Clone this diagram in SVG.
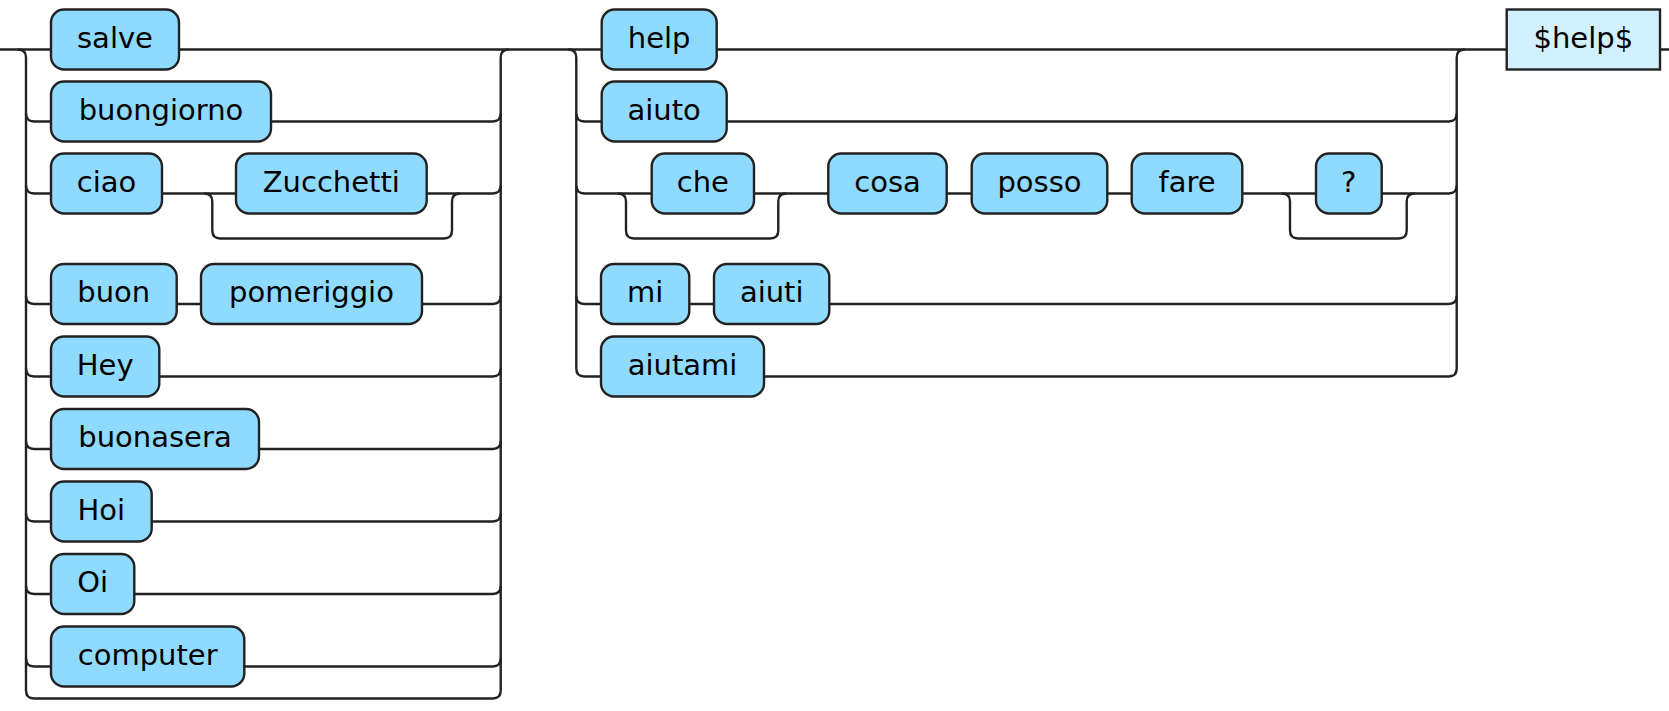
<svg xmlns="http://www.w3.org/2000/svg" width="1669" height="711" viewBox="0 0 1669 711">
<style>
.t{fill:#8FDBFF;stroke:#222;stroke-width:2.4}
.n{fill:#D2F0FF;stroke:#222;stroke-width:2.4}
.l{fill:none;stroke:#222;stroke-width:2.4}
text{font-family:"DejaVu Sans","Liberation Sans",sans-serif;font-size:29px;fill:#000;text-anchor:middle}
</style>
<rect width="1669" height="711" fill="#fff"/>
<g id="connectors" class="l">
<path d="M0 49.5H51M179 49.5H601.7M716.7 49.5H1506.7M1660 49.5H1669"/>
<path d="M18 49.5Q26 49.5 26 57.5V690.5Q26 698.5 34 698.5H492.7Q500.7 698.5 500.7 690.5V57.5Q500.7 49.5 508.7 49.5"/>
<path d="M26 113.5Q26 121.5 34 121.5H51M271 121.5H492.7Q500.7 121.5 500.7 113.5"/>
<path d="M26 185.5Q26 193.5 34 193.5H51M162 193.5H236M426.7 193.5H492.7Q500.7 193.5 500.7 185.5"/>
<path d="M204.3 193.5Q212.3 193.5 212.3 201.5V230.5Q212.3 238.5 220.3 238.5H444Q452 238.5 452 230.5V201.5Q452 193.5 460 193.5"/>
<path d="M26 296Q26 304 34 304H51M176.7 304H201M422 304H492.7Q500.7 304 500.7 296"/>
<path d="M26 368.5Q26 376.5 34 376.5H51M159.3 376.5H492.7Q500.7 376.5 500.7 368.5"/>
<path d="M26 441Q26 449 34 449H51M259 449H492.7Q500.7 449 500.7 441"/>
<path d="M26 513.5Q26 521.5 34 521.5H51M151.7 521.5H492.7Q500.7 521.5 500.7 513.5"/>
<path d="M26 586Q26 594 34 594H51M134.3 594H492.7Q500.7 594 500.7 586"/>
<path d="M26 658.5Q26 666.5 34 666.5H51M244.3 666.5H492.7Q500.7 666.5 500.7 658.5"/>
<path d="M568.3 49.5Q576.3 49.5 576.3 57.5V368.5Q576.3 376.5 584.3 376.5H601"/>
<path d="M764 376.5H1448.7Q1456.7 376.5 1456.7 368.5V57.5Q1456.7 49.5 1464.7 49.5"/>
<path d="M576.3 113.5Q576.3 121.5 584.3 121.5H601.7M726.7 121.5H1448.7Q1456.7 121.5 1456.7 113.5"/>
<path d="M576.3 185.5Q576.3 193.5 584.3 193.5H651.7M754 193.5H828.3M946.7 193.5H971.7M1107.3 193.5H1131.7M1242.3 193.5H1316M1381.7 193.5H1448.7Q1456.7 193.5 1456.7 185.5"/>
<path d="M618 193.5Q626 193.5 626 201.5V230.5Q626 238.5 634 238.5H770.3Q778.3 238.5 778.3 230.5V201.5Q778.3 193.5 786.3 193.5"/>
<path d="M1282 193.5Q1290 193.5 1290 201.5V230.5Q1290 238.5 1298 238.5H1398.7Q1406.7 238.5 1406.7 230.5V201.5Q1406.7 193.5 1414.7 193.5"/>
<path d="M576.3 296Q576.3 304 584.3 304H601M689.3 304H714M829.3 304H1448.7Q1456.7 304 1456.7 296"/>
</g>
<g id="salve"><rect class="t" x="51" y="9.5" width="128" height="60" rx="13"/><text x="115" y="47.5">salve</text></g>
<g id="buongiorno"><rect class="t" x="51" y="81.5" width="220" height="60" rx="13"/><text x="161" y="119.5">buongiorno</text></g>
<g id="ciao"><rect class="t" x="51" y="153.5" width="111" height="60" rx="13"/><text x="106.5" y="191.5">ciao</text></g>
<g id="Zucchetti"><rect class="t" x="236" y="153.5" width="190.7" height="60" rx="13"/><text x="331.3" y="191.5">Zucchetti</text></g>
<g id="buon"><rect class="t" x="51" y="264" width="125.7" height="60" rx="13"/><text x="113.8" y="302">buon</text></g>
<g id="pomeriggio"><rect class="t" x="201" y="264" width="221" height="60" rx="13"/><text x="311.5" y="302">pomeriggio</text></g>
<g id="Hey"><rect class="t" x="51" y="336.5" width="108.3" height="60" rx="13"/><text x="105.2" y="374.5">Hey</text></g>
<g id="buonasera"><rect class="t" x="51" y="409" width="208" height="60" rx="13"/><text x="155" y="447">buonasera</text></g>
<g id="Hoi"><rect class="t" x="51" y="481.5" width="100.7" height="60" rx="13"/><text x="101.3" y="519.5">Hoi</text></g>
<g id="Oi"><rect class="t" x="51" y="554" width="83.3" height="60" rx="13"/><text x="92.7" y="592">Oi</text></g>
<g id="computer"><rect class="t" x="51" y="626.5" width="193.3" height="60" rx="13"/><text x="147.7" y="664.5">computer</text></g>
<g id="help"><rect class="t" x="601.7" y="9.5" width="115" height="60" rx="13"/><text x="659.2" y="47.5">help</text></g>
<g id="aiuto"><rect class="t" x="601.7" y="81.5" width="125" height="60" rx="13"/><text x="664.2" y="119.5">aiuto</text></g>
<g id="che"><rect class="t" x="651.7" y="153.5" width="102.3" height="60" rx="13"/><text x="702.8" y="191.5">che</text></g>
<g id="cosa"><rect class="t" x="828.3" y="153.5" width="118.4" height="60" rx="13"/><text x="887.5" y="191.5">cosa</text></g>
<g id="posso"><rect class="t" x="971.7" y="153.5" width="135.6" height="60" rx="13"/><text x="1039.5" y="191.5">posso</text></g>
<g id="fare"><rect class="t" x="1131.7" y="153.5" width="110.6" height="60" rx="13"/><text x="1187" y="191.5">fare</text></g>
<g id="question"><rect class="t" x="1316" y="153.5" width="65.7" height="60" rx="13"/><text x="1348.8" y="191.5">?</text></g>
<g id="mi"><rect class="t" x="601" y="264" width="88.3" height="60" rx="13"/><text x="645.2" y="302">mi</text></g>
<g id="aiuti"><rect class="t" x="714" y="264" width="115.3" height="60" rx="13"/><text x="771.7" y="302">aiuti</text></g>
<g id="aiutami"><rect class="t" x="601" y="336.5" width="163" height="60" rx="13"/><text x="682.5" y="374.5">aiutami</text></g>
<g id="helpvar"><rect class="n" x="1506.7" y="9.5" width="153.3" height="60"/><text x="1583.3" y="47.5">$help$</text></g>
</svg>
